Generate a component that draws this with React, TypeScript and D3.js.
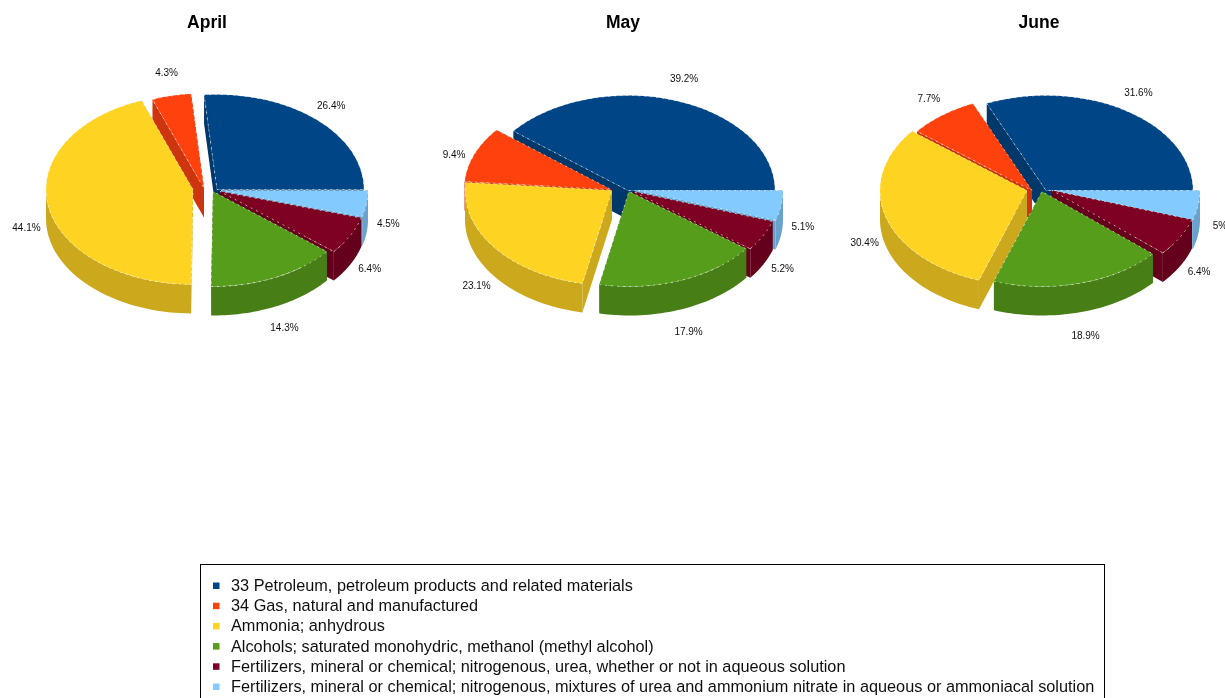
import * as d3 from 'd3';

const categories = [
  '33 Petroleum, petroleum products and related materials',
  '34 Gas, natural and manufactured',
  'Ammonia; anhydrous',
  'Alcohols; saturated monohydric, methanol (methyl alcohol)',
  'Fertilizers, mineral or chemical; nitrogenous, urea, whether or not in aqueous solution',
  'Fertilizers, mineral or chemical; nitrogenous, mixtures of urea and ammonium nitrate in aqueous or ammoniacal solution',
];
const colors = ['#004586', '#ff420e', '#ffd320', '#579d1c', '#7e0021', '#83caff'];

const aprilValues = [26.4, 4.3, 44.1, 14.3, 6.4, 4.5];
const mayValues = [39.2, 9.4, 23.1, 17.9, 5.2, 5.1];
const juneValues = [31.6, 7.7, 30.4, 18.9, 6.4, 5];

// how far each slice is pulled out of its pie, in px
const aprilExplode = [[0, -1], [-13, -2], [-24, -1], [-4, 1], [3, 1], [4, 0]];
const mayExplode = [[0, 0], [-17, -1], [-16, 0], [1, 1], [5, 1], [8, 0]];
const juneExplode = [[0, 0], [-14, 0], [-19, 0], [-4, 1], [6, 0], [7, 0]];

const charts = [
  { title: 'April', values: aprilValues, explode: aprilExplode, cx: 217, titleX: 207 },
  { title: 'May', values: mayValues, explode: mayExplode, cx: 628, titleX: 623 },
  { title: 'June', values: juneValues, explode: juneExplode, cx: 1046, titleX: 1039 },
];

const cy = 190.5;
const rx = 147;
const ry = 95;
const depth = 29;
const font = '"Liberation Sans", Arial, sans-serif';

const shade = (c: string) => {
  const { r, g, b } = d3.rgb(c);
  return d3.rgb(r * 0.8, g * 0.8, b * 0.8).formatHex();
};

// angles are d3 pie angles: clockwise from 12 o'clock
const ex = (a: number) => rx * Math.sin(a);
const ey = (a: number) => -ry * Math.cos(a);

const pie = d3.pie<number>().sort(null).startAngle(Math.PI / 2).endAngle(Math.PI / 2 - 2 * Math.PI);
const topArc = d3.arc<d3.PieArcDatum<number>>().innerRadius(0).outerRadius(rx);
const outline = d3.line();

function outerWall(a0: number, a1: number) {
  const lo = Math.max(Math.min(a0, a1), -1.5 * Math.PI);
  const hi = Math.min(Math.max(a0, a1), -0.5 * Math.PI);
  if (lo >= hi) return null;
  const steps = d3.range(0, 41).map(i => lo + ((hi - lo) * i) / 40);
  const upper = steps.map(a => [ex(a), ey(a)] as [number, number]);
  const lower = [...steps].reverse().map(a => [ex(a), ey(a) + depth] as [number, number]);
  return outline([...upper, ...lower]) + 'Z';
}

function cutWall(a: number) {
  return outline([[0, 0], [ex(a), ey(a)], [ex(a), ey(a) + depth], [0, depth]]) + 'Z';
}

function Pie3D({ chart }: { chart: (typeof charts)[number] }) {
  const arcs = pie(chart.values);
  const mid = (d: d3.PieArcDatum<number>) => (d.startAngle + d.endAngle) / 2;
  // back slices first, front slices painted over them
  const order = [...arcs].sort((p, q) => ey(mid(p)) - ey(mid(q)));

  return (
    <g>
      <text x={chart.titleX} y={28} textAnchor="middle" fontFamily={font} fontSize={17.5} fontWeight="bold">
        {chart.title}
      </text>
      {order.map(d => {
        const [dx, dy] = chart.explode[d.index];
        const c = colors[d.index];
        const side = shade(c);
        const wall = outerWall(d.startAngle, d.endAngle);
        return (
          <g key={d.index} transform={`translate(${chart.cx + dx},${cy + dy})`}>
            <path d={cutWall(d.startAngle)} fill={side} />
            <path d={cutWall(d.endAngle)} fill={side} />
            {wall && <path d={wall} fill={side} />}
            <path
              d={topArc(d) as string}
              transform={`scale(1,${ry / rx})`}
              fill={c}
              stroke="#fff"
              strokeWidth={0.6}
              strokeDasharray="2 4"
              vectorEffect="non-scaling-stroke"
            />
          </g>
        );
      })}
      {arcs.map(d => {
        const [dx, dy] = chart.explode[d.index];
        const a = mid(d);
        return (
          <text
            key={d.index}
            x={chart.cx + dx + 1.15 * ex(a)}
            y={cy + dy + 15 + (134 / ry) * ey(a) + 3}
            textAnchor="middle"
            fontFamily={font}
            fontSize={10}
            fill="#111"
          >
            {`${d.value}%`}
          </text>
        );
      })}
    </g>
  );
}

const legendY = d3.scaleLinear().domain([0, 5]).range([586, 687]);

export default function App() {
  return (
    <svg
      width={1225}
      height={698}
      viewBox="0 0 1225 698"
      style={{ position: 'fixed', left: 0, top: 0, background: '#fff' }}
    >
      <defs>
        {/* the source picture is a soft, resampled bitmap */}
        <filter id="soft" x="0" y="0" width="1225" height="698" filterUnits="userSpaceOnUse">
          <feGaussianBlur stdDeviation="0.4" />
        </filter>
      </defs>
      <g filter="url(#soft)">
        {charts.map(chart => (
          <Pie3D key={chart.title} chart={chart} />
        ))}
        <rect x={200.5} y={564.5} width={904} height={150} fill="#fff" stroke="#000" strokeWidth={1} />
        {categories.map((name, i) => (
          <g key={name}>
            <rect x={213} y={legendY(i) - 3.5} width={6.5} height={6.5} fill={colors[i]} />
            <text x={231} y={legendY(i) + 5} fontFamily={font} fontSize={16.3} fill="#111">
              {name}
            </text>
          </g>
        ))}
      </g>
    </svg>
  );
}
